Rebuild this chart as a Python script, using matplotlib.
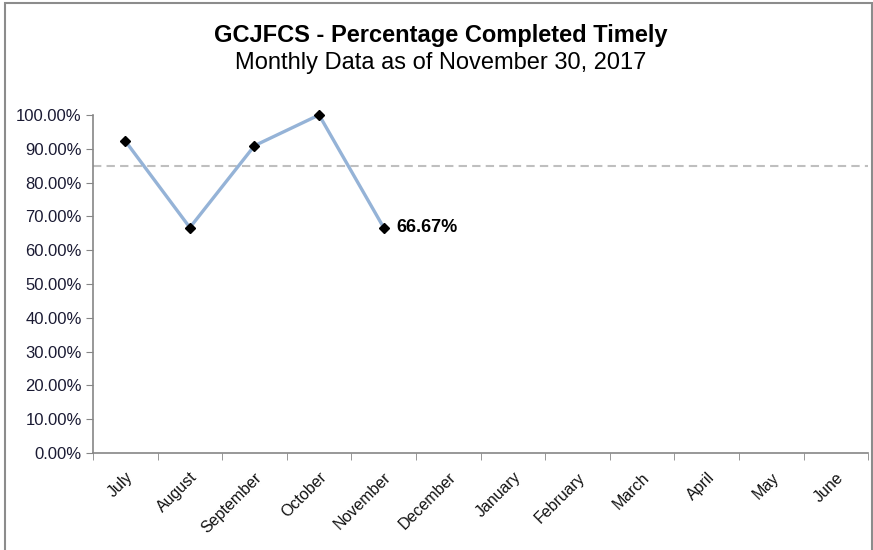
import matplotlib
matplotlib.use('Agg')
import matplotlib.pyplot as plt
from matplotlib.patches import Rectangle
from matplotlib.ticker import PercentFormatter

plt.rcParams['font.family'] = ['Liberation Sans', 'DejaVu Sans']

months = ['July', 'August', 'September', 'October', 'November', 'December',
          'January', 'February', 'March', 'April', 'May', 'June']
pct_timely = [0.9231, 0.6667, 0.9091, 1.0, 0.6667]
target = 0.85
last_label = '66.67%'

fig = plt.figure(figsize=(8.73, 5.5), dpi=100)
ax = fig.add_axes([0.1065, 0.1764, 0.888, 0.6146])

x = list(range(len(months)))
ax.plot(x[:len(pct_timely)], pct_timely, color='#95B3D7', linewidth=2.4,
        marker='D', markersize=5.5, markerfacecolor='black',
        markeredgecolor='black', zorder=3, clip_on=False)
ax.axhline(target, color='#BFBFBF', linestyle=(0, (4, 2.5)), linewidth=1.5,
           zorder=2, clip_on=False)

ax.annotate(last_label, (x[len(pct_timely) - 1], pct_timely[-1]),
            xytext=(9, 0), textcoords='offset points', va='center',
            ha='left', fontsize=13, fontweight='bold', color='black')

ax.set_xlim(-0.5, len(months) - 0.5)
ax.set_ylim(0, 1)
ax.set_yticks([i / 10 for i in range(11)])
ax.yaxis.set_major_formatter(PercentFormatter(1.0, decimals=2))
ax.set_xticks(x)
ax.set_xticklabels(months, rotation=45, ha='right', rotation_mode='anchor',
                   fontsize=11.5, color='#111111')
ax.set_xticks([i - 0.5 for i in range(len(months) + 1)], minor=True)
ax.tick_params(axis='x', which='major', length=0, pad=12)
ax.tick_params(axis='x', which='minor', length=5, color='#868686')
ax.tick_params(axis='y', length=5, color='#868686', labelsize=12,
               labelcolor='#1a1a33', pad=3)

for side in ['top', 'right']:
    ax.spines[side].set_visible(False)
for side in ['left', 'bottom']:
    ax.spines[side].set_color('#868686')
    ax.spines[side].set_linewidth(1.2)

fig.text(0.505, 0.936, 'GCJFCS - Percentage Completed Timely', ha='center',
         va='center', fontsize=17, fontweight='bold')
fig.text(0.505, 0.886, 'Monthly Data as of November 30, 2017', ha='center',
         va='center', fontsize=17)

fig.patches.append(Rectangle((5 / 873, -0.05), 867 / 873, 1.05 - 3 / 550,
                             transform=fig.transFigure, fill=False,
                             edgecolor='#8c8c8c', linewidth=1.5))

fig.savefig('out.png', dpi=100)
